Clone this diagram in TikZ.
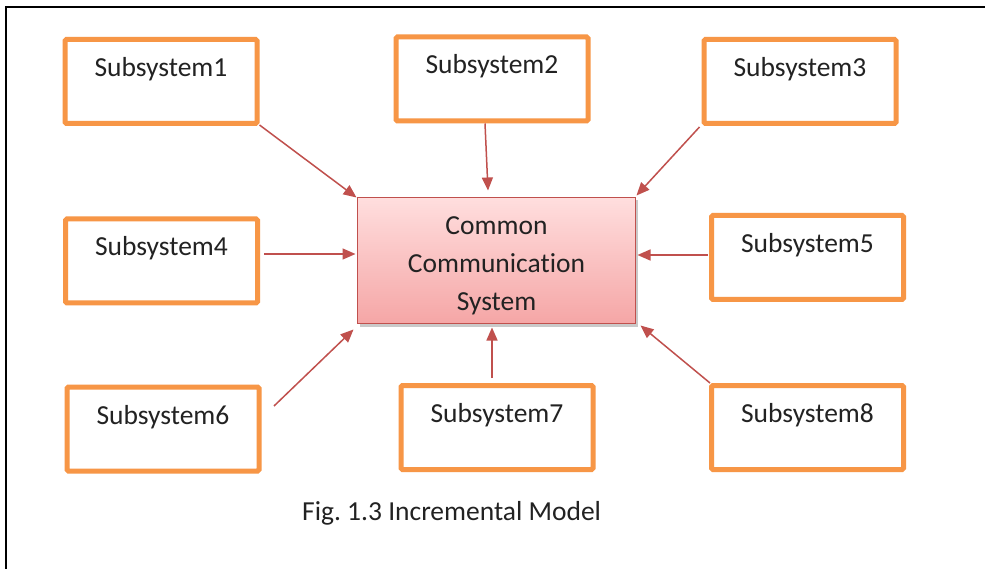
\documentclass[tikz,border=0pt]{standalone}
\usepackage{fontspec}
\setmainfont{Carlito}[Ligatures=NoCommon]
\usetikzlibrary{arrows.meta,calc,shadows}

\definecolor{boxorange}{HTML}{F79646}
\definecolor{arrowred}{HTML}{C0504D}
\definecolor{coretop}{HTML}{FFDEDE}
\definecolor{corebottom}{HTML}{F5A6A6}
\definecolor{inktext}{HTML}{222222}

\tikzset{
  subbox/.style={draw=boxorange, line width=5pt, fill=white, rounded corners=1.5pt,
    minimum width=192pt, minimum height=84pt, inner sep=0pt, outer sep=0pt},
  subtext/.style={anchor=base, text=inktext, inner sep=0pt,
    font=\fontsize{27.5pt}{33pt}\selectfont},
  corebox/.style={draw=arrowred, line width=1.3pt, top color=coretop, bottom color=corebottom,
    minimum width=278pt, minimum height=126pt, inner sep=0pt, outer sep=0pt,
    drop shadow={shadow xshift=2pt, shadow yshift=-3pt, opacity=0.35, fill=black!60}},
  coretext/.style={anchor=base, text=inktext, inner sep=0pt, align=center,
    font=\fontsize{27.5pt}{38pt}\selectfont},
  feed/.style={draw=arrowred, line width=1.5pt, -{Triangle[length=13pt,width=11pt]}},
  frameline/.style={draw=black, line width=2pt}
}

\begin{document}
\frenchspacing
\begin{tikzpicture}[x=1pt,y=-1pt]
  \useasboundingbox[fill=white] (0,0) rectangle (985,569);

  % cropped page frame: top and left edges only
  \draw[frameline] (6,569) -- (6,7) -- (985,7);

  % central system (base anchor sits on the last line)
  \node[corebox] (cc) at (496.5,260.5) {};
  \node[coretext] (cctext) at (496.5,311) {Common\\Communication\\System};

  % surrounding subsystems
  \node[subbox] (s1) at (161,81.5) {};
  \node[subbox] (s2) at (492,79) {};
  \node[subbox] (s3) at (800,81.5) {};
  \node[subbox] (s4) at (161.5,261) {};
  \node[subbox] (s5) at (807.5,257.5) {};
  \node[subbox] (s6) at (163,429) {};
  \node[subbox] (s7) at (497,427.5) {};
  \node[subbox] (s8) at (807.5,427.5) {};

  \foreach \i in {1,...,8}{
    \node[subtext] (t\i) at ($(s\i.north)+(0,37)$) {Subsystem\i};
  }

  % connectors into the central system
  \draw[feed] ($(s1.south east)+(2.5,1.5)$) -- ($(cc.north west)+(-1,0)$);
  \draw[feed] ($(s2.south)+(-7,2.5)$) -- ($(cc.north)+(-8.5,-7)$);
  \draw[feed] ($(s3.south west)+(-4.5,3.5)$) -- ($(cc.north east)+(1,-2)$);
  \draw[feed] ($(s4.east)+(6.5,-7)$) -- ($(cc.west)+(-2,-6.5)$);
  \draw[feed] ($(s5.west)+(-3.5,-2.5)$) -- ($(cc.east)+(2,-5.5)$);
  \draw[feed] ($(s6.east)+(15,-23)$) -- ($(cc.south west)+(-4,6)$);
  \draw[feed] ($(s7.north)+(-5,-7.5)$) -- ($(cc.south)+(-4.5,4)$);
  \draw[feed] ($(s8.north west)+(-1.5,-2.5)$) -- ($(cc.south east)+(5,2)$);

  % caption
  \node[subtext, anchor=base west] (cap) at (302,520) {Fig. 1.3 Incremental Model};
\end{tikzpicture}
\end{document}
